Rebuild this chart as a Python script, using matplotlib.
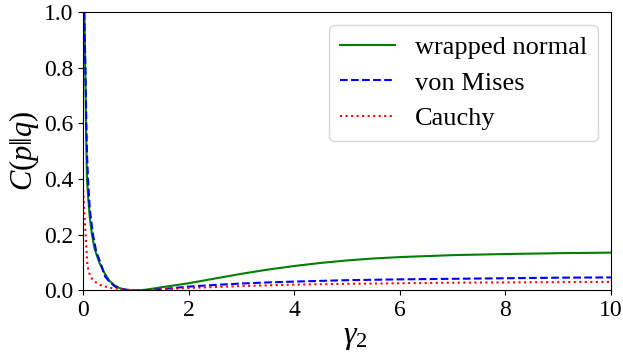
import matplotlib
matplotlib.use("Agg")
import matplotlib.pyplot as plt

# Data
x_wn = [0.025, 0.045, 0.06, 0.075, 0.1, 0.13, 0.17, 0.22, 0.31, 0.4, 0.5, 0.6, 0.7, 0.8, 0.9, 1.0,
        1.2, 1.5, 2.0, 2.5, 3.0, 3.5, 4.0, 4.5, 5.0, 5.5, 6.0, 7.0, 8.0, 9.0, 10.0]
y_wn = [1.0, 0.78, 0.56, 0.40, 0.33, 0.26, 0.20, 0.15, 0.10, 0.065, 0.035, 0.018, 0.008, 0.003, 0.0007, 0.0,
        0.003, 0.012, 0.026, 0.043, 0.060, 0.075, 0.088, 0.099, 0.108, 0.115, 0.120, 0.127, 0.131, 0.134, 0.136]

x_vm = [0.025, 0.045, 0.064, 0.075, 0.095, 0.13, 0.19, 0.25, 0.33, 0.42, 0.5, 0.6, 0.7, 0.8, 0.9, 1.0,
        1.2, 1.5, 2.0, 2.5, 3.0, 3.5, 4.0, 5.0, 6.0, 7.0, 8.0, 9.0, 10.0]
y_vm = [1.0, 0.80, 0.60, 0.50, 0.40, 0.29, 0.20, 0.14, 0.10, 0.05, 0.032, 0.015, 0.007, 0.003, 0.0007, 0.0,
        0.001, 0.005, 0.014, 0.020, 0.025, 0.029, 0.032, 0.037, 0.040, 0.042, 0.044, 0.046, 0.047]

x_ca = [0.005, 0.02, 0.035, 0.05, 0.065, 0.08, 0.1, 0.14, 0.2, 0.32, 0.5, 0.7, 1.0,
        1.5, 2.0, 3.0, 4.0, 5.0, 6.0, 7.0, 8.0, 9.0, 10.0]
y_ca = [0.36, 0.30, 0.25, 0.20, 0.15, 0.10, 0.075, 0.05, 0.035, 0.02, 0.01, 0.005, 0.0,
        0.004, 0.009, 0.016, 0.021, 0.024, 0.026, 0.028, 0.029, 0.030, 0.031]

labels = ["wrapped normal", "von Mises", "Cauchy"]

plt.rcParams['font.family'] = ['Liberation Serif', 'DejaVu Serif']
plt.rcParams['mathtext.fontset'] = 'custom'
plt.rcParams['mathtext.rm'] = 'Liberation Serif'
plt.rcParams['mathtext.it'] = 'Liberation Serif:italic'

fig = plt.figure(figsize=(6.23, 3.56), dpi=100)
ax = fig.add_axes([0.1332, 0.184, 0.8475, 0.782])

ax.plot(x_wn, y_wn, color='green', linestyle='-', linewidth=1.5, label=labels[0])
ax.plot(x_vm, y_vm, color='blue', linestyle='--', linewidth=1.5, label=labels[1])
ax.plot(x_ca, y_ca, color='red', linestyle=':', linewidth=1.5, label=labels[2])

ax.set_xlim(0, 10)
ax.set_ylim(0, 1)
ax.set_xticks([0, 2, 4, 6, 8, 10])
ax.set_yticks([0.0, 0.2, 0.4, 0.6, 0.8, 1.0])
ax.tick_params(labelsize=17)
ax.set_xlabel(r'$\gamma_2$', fontsize=23, family='DejaVu Sans', labelpad=0)
ax.xaxis.label.set_x(0.515)
ax.set_ylabel(r'$C(p\|q)$', fontsize=22, labelpad=2)

ax.legend(loc='upper right', fontsize=19, handlelength=2.1, handletextpad=0.75,
          borderpad=0.4, labelspacing=0.45, borderaxespad=0.5)

fig.savefig('out.png', dpi=100)
